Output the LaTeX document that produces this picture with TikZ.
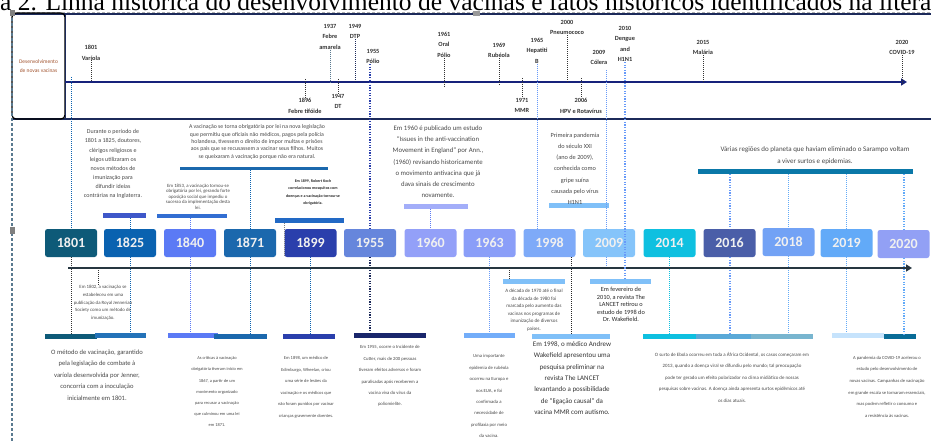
\documentclass[tikz,border=0pt]{standalone}
\usepackage{fontspec}
\setmainfont{Carlito}
\newfontfamily\titlefont{Liberation Serif}
\usepackage{xcolor}
\usepackage{tikz}
\usetikzlibrary{arrows.meta}

\definecolor{c1801}{HTML}{0E5A78}
\definecolor{c1825}{HTML}{0A62B0}
\definecolor{c1840}{HTML}{5B7AF5}
\definecolor{c1871}{HTML}{1B68AD}
\definecolor{c1899}{HTML}{2A3FAC}
\definecolor{c1955}{HTML}{6686DC}
\definecolor{c1960}{HTML}{93A0F8}
\definecolor{c1963}{HTML}{8A9EF8}
\definecolor{c1998}{HTML}{7EAAF8}
\definecolor{c2009}{HTML}{85C4FA}
\definecolor{c2014}{HTML}{0EC0E0}
\definecolor{c2016}{HTML}{4A5EA8}
\definecolor{c2018}{HTML}{72A2F5}
\definecolor{c2019}{HTML}{62AAF8}
\definecolor{c2020}{HTML}{92A0F5}
\definecolor{cNavy}{HTML}{1C2A5A}
\definecolor{cAxis}{HTML}{263640}
\definecolor{cSlate}{HTML}{5A7A90}
\definecolor{cSky}{HTML}{80C0F8}
\definecolor{cSea}{HTML}{0A78A8}
\definecolor{cLabel}{HTML}{A0522D}

\newcommand{\fs}[2]{\fontsize{#1}{#2}\selectfont}

\tikzset{
	yearbox/.style={rounded corners=2.5pt, minimum width=52pt, minimum height=28pt, inner sep=0pt, text=white!94!black, font=\bfseries\fs{14}{14}},
	evt/.style={align=center, inner sep=0pt, anchor=north, text=black!80, font=\bfseries\fs{6.3}{10.5}},
	note/.style={align=center, inner sep=0pt, anchor=north, text=black!72},
	bar/.style={inner sep=0pt, minimum height=5pt},
	tk/.style={densely dotted, line width=1pt},
	tkheavy/.style={dotted, line width=2pt, dash pattern=on 1.2pt off 1.4pt},
}

\begin{document}
\begin{tikzpicture}[x=1pt, y=-1pt]
	\useasboundingbox (0,0) rectangle (931,441);
	\begin{scope}
		\clip (0,0) rectangle (931,441);
		\node[anchor=base west, inner sep=0pt, font=\titlefont\fs{25.5}{25.5}] (title) at (0,11) {\llap{Figur}a 2. Linha histórica do desenvolvimento de vacinas e fatos históricos identificados na literatura};
	\end{scope}

	\draw[gray!60, densely dashed] (12,11.8) -- (931,11.8);
	\draw[cNavy, line width=1.5pt] (12,13.8) -- (931,13.8);
	\draw[cNavy, line width=2pt] (12,119) -- (931,119);
	\node[draw=black, line width=1.2pt, rounded corners=4pt, minimum width=53pt, minimum height=106pt, inner sep=0pt, align=center, text=cLabel, font=\fs{5.5}{9}] (lbl) at (38.5,66) {Desenvolvimento\\de novas vacinas};
	\draw[cSlate, densely dashed, line width=1.3pt] (12,13) -- (12,441);
	\fill[gray] (9.5,10.5) rectangle (15,16);
	\fill[gray!80] (473,11) rectangle (480,16);
	\fill[gray] (9.5,227) rectangle (15,234);

	\coordinate (ax0) at (65,82);
	\coordinate (ax1) at (907,82);
	\coordinate (axb) at (68,268);
	\coordinate (axe) at (912,268);
	\coordinate (k2009) at (606,70);
	\coordinate (k1970) at (509,268);

	\node[evt] (e1801) at (91,45) {1801\\Varíola};
	\node[evt] (e1937) at (330,24) {1937\\Febre\\amarela};
	\node[evt] (e1949) at (355,24) {1949\\DTP};
	\node[evt] (e1955) at (373,49) {1955\\Pólio};
	\node[evt] (e1961) at (444,32) {1961\\Oral\\Pólio};
	\node[evt] (e1969) at (499,43) {1969\\Rubéola};
	\node[evt] (e1965) at (537,38) {1965\\Hepatiti\\B};
	\node[evt] (e2000) at (567,20) {2000\\Pneumococo};
	\node[evt] (e2009) at (599,50) {2009\\Cólera};
	\node[evt] (e2010) at (625,26) {2010\\Dengue\\and\\H1N1};
	\node[evt] (e2015) at (703,40) {2015\\Malária};
	\node[evt] (e2020) at (902,40) {2020\\COVID-19};
	\node[evt] (e1896) at (305,98) {1896\\Febre tifóide};
	\node[evt] (e1947) at (338,94) {1947\\DT};
	\node[evt] (e1971) at (522,98) {1971\\MMR};
	\node[evt] (e2006) at (581,98) {2006\\HPV e Rotavírus};

	\draw[cNavy, line width=0.9pt] (65,13.8) -- (65,119);
	\draw[cNavy!80!blue, line width=1.8pt, -{Triangle[length=6pt, width=7pt]}] (ax0) -- (ax1);

	\node[yearbox, fill=c1801] (y1801) at (71,243) {1801};
	\node[yearbox, fill=c1825] (y1825) at (130,243) {1825};
	\node[yearbox, fill=c1840] (y1840) at (190,243) {1840};
	\node[yearbox, fill=c1871] (y1871) at (250,243) {1871};
	\node[yearbox, fill=c1899] (y1899) at (310.5,243) {1899};
	\node[yearbox, fill=c1955] (y1955) at (370,243) {1955};
	\node[yearbox, fill=c1960] (y1960) at (430.5,243) {1960};
	\node[yearbox, fill=c1963] (y1963) at (489.5,243) {1963};
	\node[yearbox, fill=c1998] (y1998) at (549.5,243) {1998};
	\node[yearbox, fill=c2009] (y2009) at (609,243) {2009};
	\node[yearbox, fill=c2014] (y2014) at (669.5,243) {2014};
	\node[yearbox, fill=c2016] (y2016) at (729.5,243) {2016};
	\node[yearbox, fill=c2018] (y2018) at (788.5,242) {2018};
	\node[yearbox, fill=c2019] (y2019) at (846.5,243) {2019};
	\node[yearbox, fill=c2020] (y2020) at (903.5,244) {2020};

	\node[bar, fill=c1899!60!c1840, minimum width=43pt] (bDur) at (124.5,215.5) {};
	\node[bar, fill=c1840!50!c1825, minimum width=70pt, minimum height=4pt] (b1853) at (192,216) {};
	\node[bar, fill=c1871, minimum width=148pt, minimum height=3.5pt] (bLei) at (254,168.5) {};
	\node[bar, fill=c1825!70!c1840, minimum width=69pt] (bKoch) at (309.5,220.5) {};
	\node[bar, fill=c1960!85!white, minimum width=64pt] (b1960) at (436,206.5) {};
	\node[bar, fill=cSky, minimum width=60pt] (bH1N1) at (579,205.5) {};
	\node[bar, fill=cSea, minimum width=215pt] (bSar) at (805.5,171.5) {};

	\node[bar, fill=c1801, minimum width=52pt] (bB1801) at (71,336.5) {};
	\node[bar, fill=c1825!90!white, minimum width=51pt] (bB1825) at (120.5,335.5) {};
	\node[bar, fill=c1840, minimum width=50pt] (bB1840) at (193,335.5) {};
	\node[bar, fill=c1871, minimum width=53pt] (bB1871) at (240.5,336.5) {};
	\node[bar, fill=c1899, minimum width=52pt] (bB1899) at (309,336.5) {};
	\node[bar, fill=cNavy!90!blue, minimum width=72pt] (bB1955) at (390,335.5) {};
	\node[bar, fill=cSky!90!blue, minimum width=51pt] (bB1963) at (489.5,335.5) {};
	\node[bar, fill=cSky, minimum width=62pt] (bB1970) at (534,281.5) {};
	\node[bar, fill=cSky, minimum width=78pt] (bB1998) at (571,336.5) {};
	\node[bar, fill=cSky, minimum width=61pt] (bB2010) at (620.5,281.5) {};
	\node[bar, fill=c2014, minimum width=53pt] (bB2014) at (669.5,336.5) {};
	\node[bar, fill=c2014!40!c1998!80!gray, minimum width=55pt] (bB2016) at (723.5,336.5) {};
	\node[bar, fill=cSea!55!white, minimum width=62pt] (bB2018) at (782,336.5) {};
	\node[bar, fill=cSky!45!white, minimum width=52pt] (bB2019) at (858,335.5) {};
	\node[bar, fill=cSea!90!black, minimum width=32pt] (bB2020) at (900,336.5) {};

	\draw[tk, black!80] (e1801.south) -- (e1801.south |- ax0);
	\draw[tk, cSlate] (e1937.south) -- (e1937.south |- ax0);
	\draw[tk, cNavy] (e1949.south) -- (e1949.south |- ax0);
	\draw[tk, black!80] (e1961.south) -- ([yshift=-4pt]e1961.south |- ax0);
	\draw[tk, black!80] (e1969.south) -- ([yshift=-4pt]e1969.south |- ax0);
	\draw[tk, black!80] (e2000.south) -- (e2000.south |- ax0);
	\draw[tk, black!80] (e2015.south) -- (e2015.south |- ax0);
	\draw[tk, black!80] (e2020.south) -- ([yshift=-3pt]e2020.south |- ax0);
	\draw[tk, black!80] ([yshift=3pt]e1896.north |- ax0) -- (e1896.north);
	\draw[tk, black!80] ([yshift=3pt]e1947.north |- ax0) -- (e1947.north);
	\draw[tk, black!80] ([yshift=4pt]e1971.north |- ax0) -- (e1971.north);
	\draw[tk, black!80] ([yshift=4pt]e2006.north |- ax0) -- (e2006.north);
	\draw[tk, c1825] ([yshift=5pt]y1801.north |- ax0) -- (y1801.north);
	\draw[tkheavy, c1899] (y1955.north |- e1955.south) -- (y1955.north);
	\draw[tk, cSky!80!blue] (e1965.south) -- (e1965.south |- y1998.north);
	\draw[tk, cSky!80!blue] (k2009) -- (k2009 |- y2009.north);

	\draw[tk, c1825] (bDur.south -| y1825.north) -- (y1825.north);
	\draw[tk, c1840] (b1853.south -| y1840.north) -- (y1840.north);
	\draw[tk, c1825] (bLei.south -| y1871.north) -- (y1871.north);
	\draw[tk, gray] (bKoch.south -| y1899.west) -- (y1899.south west);
	\draw[tk, c1840] (b1960.south -| y1960.north) -- (y1960.north);
	\draw[tkheavy, cSky!80!blue] (bSar.south -| y2016.north) -- (y2016.north);
	\draw[tk, c2019] (bSar.south -| y2018.north) -- (y2018.north);
	\draw[tk, c2019] (bSar.south -| y2019.north) -- (y2019.north);
	\draw[tkheavy, c2019] (bSar.south -| y2020.north) -- (y2020.north);

	\draw[tk, black!80] (y1801.south) -- (bB1801.north -| y1801.south);
	\draw[tk, c1825] (y1825.south) -- (bB1825.north -| y1825.south);
	\draw[tk, c1840] (y1840.south) -- (bB1840.north -| y1840.south);
	\draw[tk, c1825] (y1871.south) -- (bB1871.north -| y1871.south);
	\draw[tk, c1825] (y1899.south) -- (bB1899.north -| y1899.south);
	\draw[tkheavy, cNavy] (y1955.south) -- (bB1955.north -| y1955.south);
	\draw[tk, cSky!80!blue] (y1963.south) -- (bB1963.north -| y1963.south);
	\draw[tk, black!85] (bB1998.north |- y1998.south) -- (bB1998.north);
	\draw[tk, cSky!80!blue] (k2009 |- y2009.south) -- (k2009 |- axb);
	\draw[tk, c2014] (y2014.south) -- (bB2014.north -| y2014.south);
	\draw[tkheavy, cSky!80!blue] (y2016.south) -- (bB2016.north -| y2016.south);
	\draw[tk, c2019] (y2018.south) -- (bB2018.north -| y2018.south);
	\draw[tk, c2019] (y2019.south) -- (bB2019.north -| y2019.south);
	\draw[tkheavy, c2019] (y2020.south) -- (bB2020.north -| y2020.south);

	\draw[cAxis, line width=2.2pt, -{Triangle[length=6pt, width=7pt]}] (axb) -- (axe);

	\node[note, font=\fs{4.8}{7.8}] (t1802) at (103,285) {Em 1802, a vacinação se\\estabeleceu em uma\\publicação da Royal Jennerian\\Society como um método de\\imunização.};
	\draw[tk, black!80] (axb -| 98,0) -- (t1802.north -| 98,0);
	\draw[tk, black!80] (k1970) -- (k1970 |- bB1970.north);
	\draw[tkheavy, cSky!80!blue] (e2010.south) -- (e2010.south |- bB2010.north);

	\node[note, font=\fs{6}{9.1}] (tDur) at (113,129.5) {Durante o período de\\1801 a 1825, doutores,\\clérigos religiosos e\\leigos utilizaram os\\novos métodos de\\imunização para\\difundir ideias\\contrárias na Inglaterra.};
	\node[note, font=\fs{4.8}{5.6}] (t1853) at (198,183.5) {Em 1853, a vacinação tornou-se\\obrigatória por lei, gerando forte\\oposição social que impediu o\\sucesso da implementação desta\\lei.};
	\node[note, font=\fs{5.8}{7.4}] (tLei) at (257,124.5) {A vacinação se torna obrigatória por lei na nova legislação\\que permitiu que oficiais não médicos, pagos pela polícia\\holandesa, tivessem o direito de impor multas e prisões\\aos pais que se recusassem a vacinar seus filhos. Muitos\\se queixaram à vacinação porque não era natural.};
	\node[note, text=black!85, font=\bfseries\fs{4}{7.3}] (tKoch) at (313,179.5) {Em 1899, Robert Koch\\correlacionou mosquitos com\\doenças e a vacinação tornou-se\\obrigatória.};
	\node[note, font=\fs{6.8}{11.2}] (t1960) at (438,125.5) {Em 1960 é publicado um estudo\\``Issues in the anti-vaccination\\Movement in England'' por Ann.,\\(1960) revisando historicamente\\o movimento antivacina que já\\dava sinais de crescimento\\novamente.};
	\node[note, font=\fs{6.3}{11.3}] (tH1N1) at (575,132.5) {Primeira pandemia\\do século XXI\\(ano de 2009),\\conhecida como\\gripe suína\\causada pelo vírus\\H1N1};
	\node[note, font=\fs{7}{12.8}] (tSar) at (815,146) {Várias regiões do planeta que haviam eliminado o Sarampo voltam\\a viver surtos e epidemias.};

	\node[note, font=\fs{6.6}{11.5}] (tMet) at (97,349.5) {O método de vacinação, garantido\\pela legislação de combate à\\varíola desenvolvida por Jenner,\\concorria com a inoculação\\inicialmente em 1801.};
	\node[note, font=\fs{4.4}{11.2}] (tCrit) at (217,356.5) {As críticas à vacinação\\obrigatória tiveram início em\\1867, a partir de um\\movimento organizado\\para recusar a vacinação\\que culminou em uma lei\\em 1871.};
	\node[note, font=\fs{4.5}{11.5}] (t1898) at (306,356.5) {Em 1898, um médico de\\Edimburgo, Wheelan, criou\\uma série de lesões da\\vacinação e os médicos que\\não foram punidos por vacinar\\crianças gravemente doentes.};
	\node[note, font=\fs{4.7}{11.4}] (t1955) at (390,345.5) {Em 1955, ocorre o Incidente de\\Cutter, mais de 200 pessoas\\tiveram efeitos adversos e foram\\paralisadas após receberem a\\vacina viva do vírus da\\poliomielite.};
	\node[note, font=\fs{4.7}{11.4}] (t1963) at (489,354.5) {Uma importante\\epidemia de rubéola\\ocorreu na Europa e\\nos EUA, e foi\\confirmada a\\necessidade de\\profilaxia por meio\\da vacina.};
	\node[note, font=\fs{5}{7.5}] (t1970) at (534,289) {A década de 1970 até o final\\da década de 1980 foi\\marcada pelo aumento das\\vacinas nos programas de\\imunização de diversos\\países.};
	\node[note, text=black!80, font=\fs{7}{11.3}] (tWake) at (572,341.5) {Em 1998, o médico Andrew\\Wakefield apresentou uma\\pesquisa preliminar na\\revista The LANCET\\levantando a possibilidade\\de ``ligação causal'' da\\vacina MMR com autismo.};
	\node[note, text=black!85, font=\fs{6.3}{7.5}] (t2010) at (621,287) {Em fevereiro de\\2010, a revista The\\LANCET retirou o\\estudo de 1998 do\\Dr. Wakefield.};
	\node[note, font=\fs{4.9}{11.5}] (tEbola) at (732,352) {O surto de Ebola ocorreu em toda a África Ocidental, os casos começaram em\\2013, quando a doença viral se difundiu pelo mundo; tal preocupação\\pode ter gerado um efeito polarizador no clima midiático de nossas\\pesquisas sobre vacinas. A doença ainda apresenta surtos epidêmicos até\\os dias atuais.};
	\node[note, font=\fs{4.6}{11.6}] (tCovid) at (887,356) {A pandemia da COVID-19 acelerou o\\estudo pelo desenvolvimento de\\novas vacinas. Campanhas de vacinação\\em grande escala se tornaram essenciais,\\mas podem refletir o consumo e\\a resistência às vacinas.};
\end{tikzpicture}
\end{document}
